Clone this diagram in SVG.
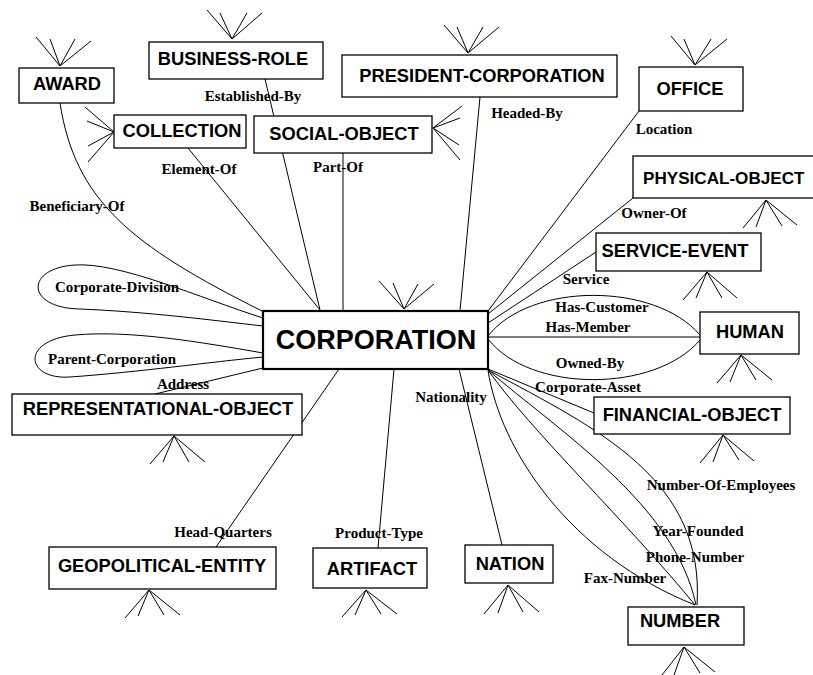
<svg xmlns="http://www.w3.org/2000/svg" width="813" height="675" viewBox="0 0 813 675">
<style>
.box{fill:#fff;stroke:#000;stroke-width:1.3}
.main{fill:#fff;stroke:#000;stroke-width:2.2}
.nl{font-family:"Liberation Sans",Arial,sans-serif;font-weight:bold;font-size:18.3px;text-anchor:middle;fill:#000}
.big{font-size:27px}
.el{font-family:"Liberation Serif","Times New Roman",serif;font-weight:bold;font-size:15px;text-anchor:middle;fill:#000}
.edge{fill:none;stroke:#000;stroke-width:1}
.fan{fill:none;stroke:#000;stroke-width:1}
</style>
<rect x="0" y="0" width="813" height="675" fill="#fff"/>
<g id="connectors">
<path class="edge" d="M60,103 C75,200 130,245 262,311"/>
<path class="edge" d="M265,79 L320,310"/>
<path class="edge" d="M188,148 L320,310"/>
<path class="edge" d="M343,153 L343,311"/>
<path class="edge" d="M480,97 L460,311"/>
<path class="edge" d="M639,111 L488,311"/>
<path class="edge" d="M633,198 L488,314"/>
<path class="edge" d="M596,252 L488,323"/>
<path class="edge" d="M488,336 C530,282 655,282 700,335"/>
<path class="edge" d="M488,337 L700,337"/>
<path class="edge" d="M488,339 C530,393 655,393 700,340"/>
<path class="edge" d="M488,369 L594,413"/>
<path class="edge" d="M459,369 L502,545"/>
<path class="edge" d="M394,369 L378,548"/>
<path class="edge" d="M339,369 L216,547"/>
<path class="edge" d="M263,368 L155,394"/>
<path class="edge" d="M263,318 C200,298 120,262 75,265 C25,268 25,308 80,309 C150,312 210,320 263,326"/>
<path class="edge" d="M263,353 C200,342 130,330 75,335 C20,340 25,380 70,377 C140,372 210,362 263,357"/>
<path class="edge" d="M488,370 C500,450 570,555 695,605"/>
<path class="edge" d="M488,370 C530,430 630,525 695,605"/>
<path class="edge" d="M488,370 C560,432 675,505 696,605"/>
<path class="edge" d="M488,370 C600,430 705,480 697,605"/>
<text class="el" x="77" y="211">Beneficiary-Of</text>
<text class="el" x="253" y="101">Established-By</text>
<text class="el" x="199" y="174">Element-Of</text>
<text class="el" x="338" y="172">Part-Of</text>
<text class="el" x="527" y="118">Headed-By</text>
<text class="el" x="664" y="134">Location</text>
<text class="el" x="654" y="218">Owner-Of</text>
<text class="el" x="586" y="284">Service</text>
<text class="el" x="602" y="312">Has-Customer</text>
<text class="el" x="588" y="332">Has-Member</text>
<text class="el" x="590" y="368">Owned-By</text>
<text class="el" x="588" y="392">Corporate-Asset</text>
<text class="el" x="451" y="402">Nationality</text>
<text class="el" x="223" y="537">Head-Quarters</text>
<text class="el" x="379" y="538">Product-Type</text>
<text class="el" x="183" y="389">Address</text>
<text class="el" x="117" y="292">Corporate-Division</text>
<text class="el" x="112" y="364">Parent-Corporation</text>
<text class="el" x="721" y="490">Number-Of-Employees</text>
<text class="el" x="698" y="536">Year-Founded</text>
<text class="el" x="695" y="562">Phone-Number</text>
<text class="el" x="625" y="583">Fax-Number</text>
</g>
<g id="award">
<rect class="box" x="19" y="68" width="95" height="35"/>
<text class="nl" x="67" y="90">AWARD</text>
<path class="fan" d="M36,37 L60,66 M50,39 L60,66 M75,39 L60,66 M91,41 L60,66"/>
</g>
<g id="business-role">
<rect class="box" x="149" y="42" width="174" height="37"/>
<text class="nl" x="233" y="65">BUSINESS-ROLE</text>
<path class="fan" d="M207,10 L232,39 M220,13 L232,39 M247,13 L232,39 M262,13 L232,39"/>
</g>
<g id="president-corporation">
<rect class="box" x="342" y="55" width="275" height="42"/>
<text class="nl" x="482" y="82">PRESIDENT-CORPORATION</text>
<path class="fan" d="M444,25 L468,53 M457,27 L468,53 M483,27 L468,53 M499,27 L468,53"/>
</g>
<g id="office">
<rect class="box" x="639" y="67" width="104" height="44"/>
<text class="nl" x="690" y="95">OFFICE</text>
<path class="fan" d="M671,36 L695,65 M684,39 L695,65 M711,39 L695,65 M727,39 L695,65"/>
</g>
<g id="collection">
<rect class="box" x="114" y="115" width="132" height="33"/>
<text class="nl" x="182" y="137">COLLECTION</text>
<path class="fan" d="M85,107 L114,132 M87,121 L114,132 M88,146 L114,132 M88,162 L114,132"/>
</g>
<g id="social-object">
<rect class="box" x="254" y="116" width="178" height="37"/>
<text class="nl" x="344" y="140">SOCIAL-OBJECT</text>
<path class="fan" d="M462,106 L433,128 M460,118 L433,128 M459,145 L433,128 M460,160 L433,128"/>
</g>
<g id="physical-object">
<rect class="box" x="633" y="156" width="185" height="42"/>
<text class="nl" x="643" y="184" style="text-anchor:start;font-size:17.1px">PHYSICAL-OBJECT</text>
<path class="fan" d="M743,228 L766,200 M756,227 L766,200 M782,226 L766,200 M797,225 L766,200"/>
</g>
<g id="service-event">
<rect class="box" x="596" y="233" width="165" height="38"/>
<text class="nl" x="675" y="257">SERVICE-EVENT</text>
<path class="fan" d="M683,300 L707,272 M696,298 L707,272 M722,298 L707,272 M737,298 L707,272"/>
</g>
<g id="human">
<rect class="box" x="700" y="312" width="99" height="42"/>
<text class="nl" x="750" y="338">HUMAN</text>
<path class="fan" d="M717,383 L741,355 M730,382 L741,355 M756,380 L741,355 M772,380 L741,355"/>
</g>
<g id="financial-object">
<rect class="box" x="594" y="397" width="196" height="37"/>
<text class="nl" x="692" y="421">FINANCIAL-OBJECT</text>
<path class="fan" d="M700,463 L723,435 M713,462 L723,435 M739,460 L723,435 M754,461 L723,435"/>
</g>
<g id="number">
<rect class="box" x="628" y="607" width="116" height="38"/>
<text class="nl" x="680" y="627">NUMBER</text>
<path class="fan" d="M662,675 L684,647 M674,675 L684,647 M700,673 L684,647 M715,672 L684,647"/>
</g>
<g id="nation">
<rect class="box" x="465" y="545" width="88" height="38"/>
<text class="nl" x="510" y="570">NATION</text>
<path class="fan" d="M484,614 L508,585 M498,613 L508,585 M523,612 L508,585 M539,612 L508,585"/>
</g>
<g id="artifact">
<rect class="box" x="313" y="548" width="114" height="40"/>
<text class="nl" x="372" y="575">ARTIFACT</text>
<path class="fan" d="M342,617 L366,590 M355,615 L366,590 M381,614 L366,590 M397,614 L366,590"/>
</g>
<g id="geopolitical-entity">
<rect class="box" x="49" y="547" width="227" height="42"/>
<text class="nl" x="162" y="572">GEOPOLITICAL-ENTITY</text>
<path class="fan" d="M125,618 L149,590 M138,616 L149,590 M164,615 L149,590 M180,615 L149,590"/>
</g>
<g id="representational-object">
<rect class="box" x="12" y="394" width="290" height="41"/>
<text class="nl" x="158" y="415">REPRESENTATIONAL-OBJECT</text>
<path class="fan" d="M150,464 L174,436 M163,462 L174,436 M189,462 L174,436 M205,462 L174,436"/>
</g>
<g id="corporation">
<rect class="main" x="263" y="311" width="225" height="58"/>
<text class="nl big" x="376" y="349">CORPORATION</text>
<path class="fan" d="M379,281 L404,309 M393,283 L404,309 M418,284 L404,309 M434,284 L404,309"/>
</g>
</svg>
